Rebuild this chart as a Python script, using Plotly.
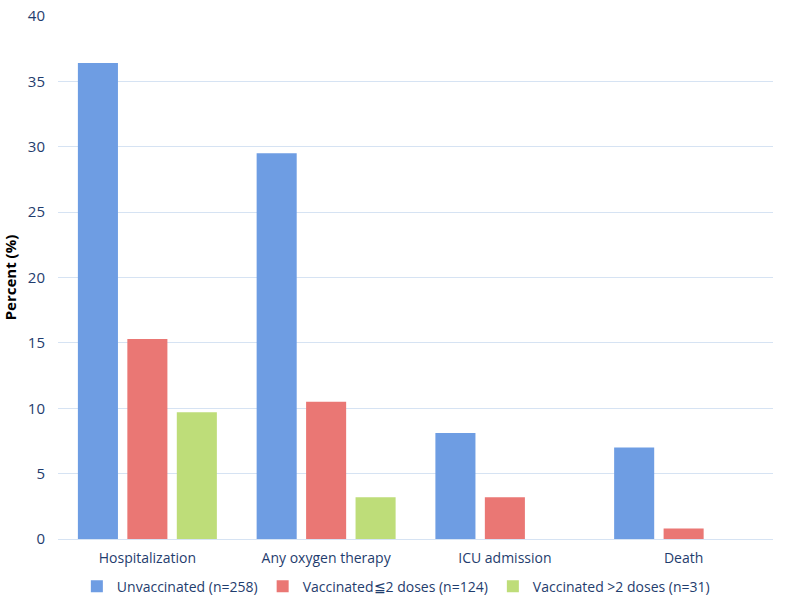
import plotly.graph_objects as go

categories = ["Hospitalization", "Any oxygen therapy", "ICU admission", "Death"]
unvaccinated = [36.4, 29.5, 8.1, 7.0]
vaccinated_le2 = [15.3, 10.5, 3.2, 0.8]
vaccinated_gt2 = [9.7, 3.2, 0, 0]
series_names = [
    "Unvaccinated (n=258)",
    "Vaccinated≦2 doses (n=124)",
    "Vaccinated >2 doses (n=31)",
]
y_ticks = [0, 5, 10, 15, 20, 25, 30, 35, 40]

colors = ["#6e9de3", "#ea7774", "#bedd79"]

fig = go.Figure()
for name, vals, c in zip(series_names, [unvaccinated, vaccinated_le2, vaccinated_gt2], colors):
    fig.add_trace(
        go.Bar(
            x=categories,
            y=vals,
            name=name,
            marker=dict(color=c, line=dict(width=0)),
        )
    )

font_family = "Open Sans, Liberation Sans, sans-serif"

fig.update_layout(
    width=787,
    height=611,
    barmode="group",
    bargap=0.17,
    bargroupgap=0.19,
    plot_bgcolor="white",
    paper_bgcolor="white",
    margin=dict(l=58, r=14, t=16, b=72, autoexpand=False),
    font=dict(family=font_family, size=14, color="#1f3d6e"),
    legend=dict(
        orientation="h",
        xref="container",
        yref="container",
        x=0.503,
        xanchor="center",
        y=0.04,
        yanchor="middle",
        font=dict(size=14, color="#1f3d6e"),
        itemwidth=30,
        traceorder="normal",
    ),
    showlegend=True,
)

fig.update_yaxes(
    range=[0, 40],
    tickvals=y_ticks,
    showgrid=True,
    gridcolor="#d6e3f3",
    gridwidth=1,
    zeroline=False,
    showline=False,
    ticks="",
    automargin=False,
    ticklabelstandoff=12,
    tickfont=dict(size=15, color="#1f3d6e"),
    title=dict(
        text="<b>Percent (%)</b>",
        font=dict(size=15, color="black"),
        standoff=12,
    ),
)
fig.update_xaxes(
    showline=True,
    linecolor="#d6e3f3",
    linewidth=1,
    ticks="",
    automargin=False,
    ticklabelstandoff=6,
    tickfont=dict(size=14, color="#1f3d6e"),
)

# 去掉页面默认边距，让图表贴齐窗口
fig.write_html(
    "out.html",
    config={"displayModeBar": False},
    post_script="document.body.style.margin='0';",
)
